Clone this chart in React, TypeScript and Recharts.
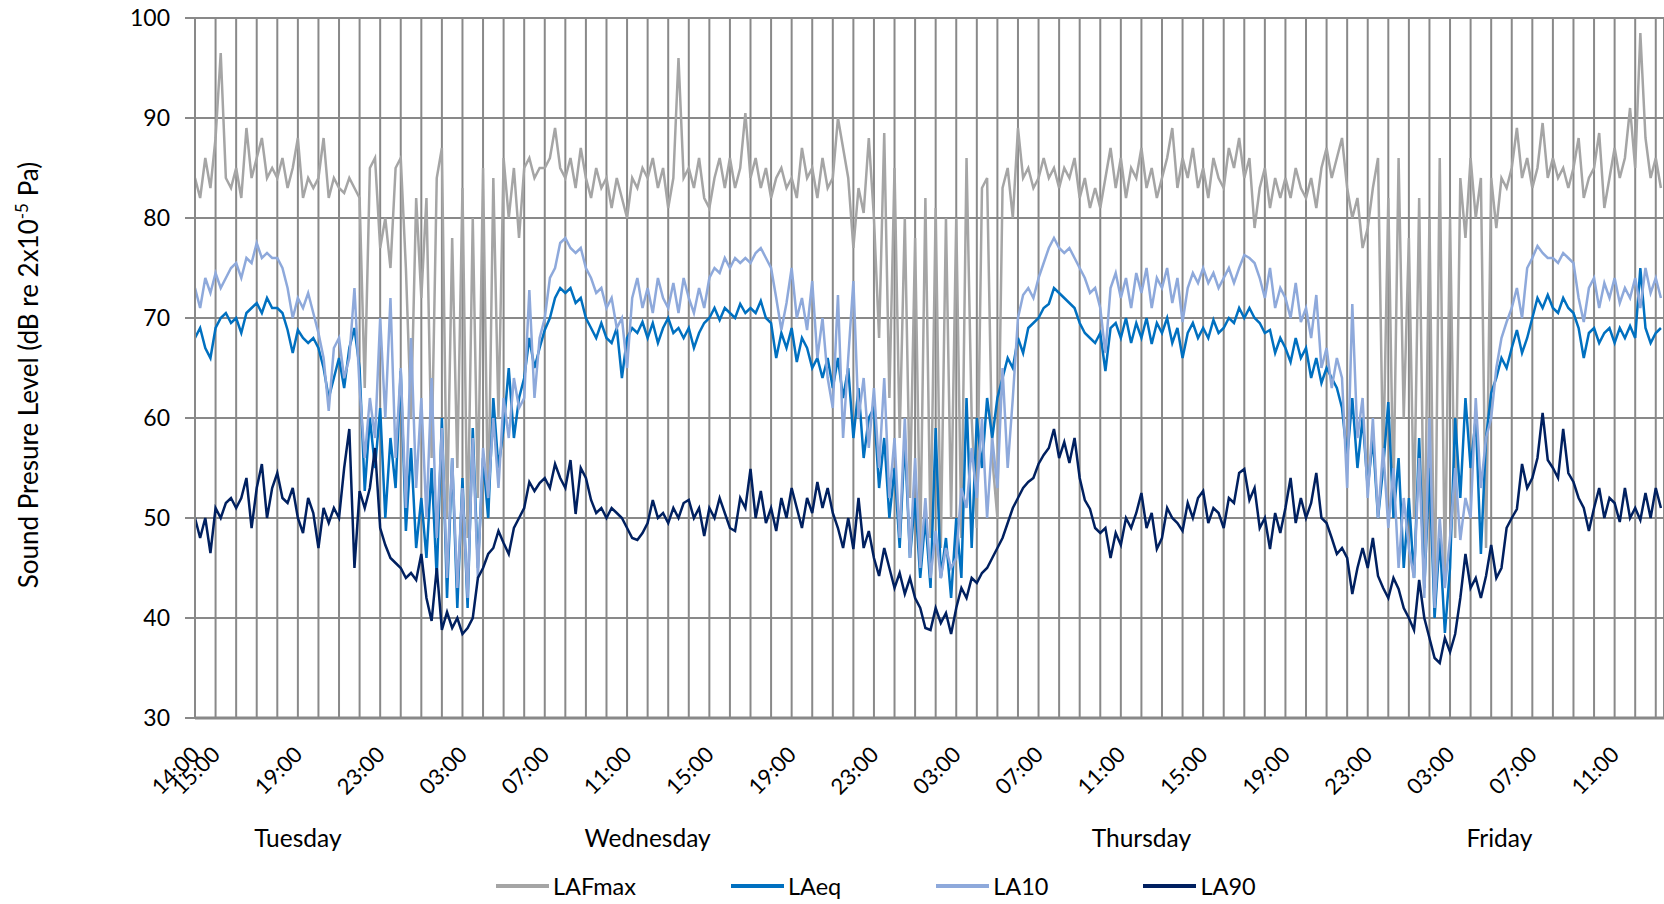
import React from "react";
import { LineChart, Line, XAxis, YAxis, CartesianGrid, Legend } from "recharts";

// samples every 15 min, hours counted from Tuesday 14:00
const STEP = 0.25;
const X_END = 71.4;

const hourTicks = Array.from({ length: 72 }, (_, i) => i);
const labelHours = [0, 1, 5, 9, 13, 17, 21, 25, 29, 33, 37, 41, 45, 49, 53, 57, 61, 65, 69];
const timeLabels = ["14:00", "15:00", "19:00", "23:00", "03:00", "07:00", "11:00", "15:00", "19:00",
  "23:00", "03:00", "07:00", "11:00", "15:00", "19:00", "23:00", "03:00", "07:00", "11:00"];
const dayTicks = [5, 22, 46, 63.4];
const dayNames = ["Tuesday", "Wednesday", "Thursday", "Friday"];
const yTicks = [30, 40, 50, 60, 70, 80, 90, 100];

const lafmax = [
  84, 82, 86, 83, 88, 96.5, 84, 83, 85, 82, 89, 84, 86, 88, 84, 85,
  84, 86, 83, 85, 88, 82, 84, 83, 84, 88, 82, 84, 83, 82.5, 84, 83,
  82, 63, 85, 86, 77, 80, 75, 85, 86, 75, 60, 82, 72, 82, 56, 84,
  87, 50, 78, 55, 83, 48, 80, 52, 85, 50, 84, 60, 86, 80, 85, 78,
  85, 86, 84, 85, 85, 86, 89, 85, 84, 86, 83, 87, 84, 82, 85, 83,
  84, 81, 84, 82, 80, 84, 83, 85, 84, 86, 83, 85, 81, 84, 96, 84,
  85, 83, 86, 82, 81, 84, 86, 83, 86, 83, 85, 90.5, 84, 86, 83, 85,
  82, 84, 85, 83, 84, 82, 87, 84, 85, 82, 86, 83, 84, 90, 87, 84,
  77, 83, 80.5, 88, 80, 68, 88.5, 62, 85, 58, 80, 52, 78, 47, 82, 48,
  81, 47, 80, 50, 80, 48, 86, 60, 49, 83, 84, 56, 50, 83, 85, 80,
  89, 84, 85, 83, 84, 86, 84, 85, 83, 85, 84, 86, 82, 84, 81, 83,
  81, 84, 87, 83, 86, 82, 85, 84, 87, 83, 85, 82, 84, 86, 89, 83,
  86, 84, 87, 83, 85, 82, 86, 84, 83, 87, 85, 88, 84, 86, 79, 83,
  85, 81, 84, 82, 84, 82, 85, 83, 82, 84, 81, 85, 87, 84, 86, 88,
  83, 80, 82, 77, 79, 83, 86, 55, 82, 52, 86, 60, 78, 50, 82, 45,
  80, 40, 86, 44, 80, 48, 84, 78, 86, 80, 84, 47, 84, 79, 84, 83,
  85, 89, 84, 86, 83, 85, 89.5, 84, 86, 84, 85, 83, 85, 88, 82, 84,
  85, 88.5, 81, 84, 87, 84, 86, 91, 85, 98.5, 88, 84, 86, 83,
];

const laeq = [
  68, 69, 67, 66, 69, 70, 70.5, 69.5, 70, 68.5, 70.5, 71, 71.5, 70.5, 72, 71,
  71, 70.5, 68.8, 66.5, 68.8, 68, 67.5, 68, 67, 65, 62, 64, 66, 63, 67, 69,
  65, 52.7, 60, 55, 61, 50, 58, 53, 64.7, 48.7, 57, 47, 52, 46, 55, 44,
  60, 42, 56, 41, 54, 41, 59, 45, 56, 50, 62, 55, 59, 65, 58, 62,
  64, 68, 65, 67, 68.8, 70, 72, 73, 72.5, 73, 71.5, 72, 70, 69, 68, 69.5,
  68, 67.5, 69, 64, 68, 69, 68.5, 69.6, 68, 69.5, 67.5, 69, 70, 68.5, 69, 68,
  69, 67, 68.5, 69.5, 70, 71, 69.8, 71, 70.5, 70, 71.4, 70.5, 71, 70.5, 71.7, 70,
  69.5, 66, 68.5, 67, 69, 65.6, 68, 67, 65, 66, 64, 66, 63, 66, 62, 65,
  58, 63, 56, 60, 61, 53, 58, 50, 55, 47, 58, 46, 52, 44, 50, 43,
  59, 44, 48, 42, 50, 44, 62, 47, 60, 55, 62, 58, 62, 64, 66, 65,
  68, 66.5, 69, 69.5, 70, 71, 71.4, 73, 72.5, 72, 71.5, 71, 69.5, 68.5, 68, 67.5,
  68.5, 64.7, 69, 69.5, 68, 70, 67.5, 69.5, 68, 70, 67.4, 69.5, 68.5, 70, 67.5, 69,
  66, 68.5, 69.5, 68, 69, 68, 69.8, 68.5, 69, 70, 69.5, 71, 70, 71, 70, 69.5,
  68.5, 68.8, 66.5, 68, 67, 65.6, 68, 66, 67, 64, 66, 63.5, 65, 64, 63, 61,
  56, 62, 55, 60, 53, 58, 50, 55, 61.6, 50, 56, 45, 52, 44, 58, 43,
  55, 40, 48, 38.5, 45, 60, 52, 62, 55, 60, 46.4, 58, 62.5, 64, 66, 65,
  67, 68.8, 66.5, 68, 70, 72, 71, 72.3, 71, 70.5, 72, 71, 70.5, 69, 66, 68.5,
  69, 67.5, 68.5, 69, 67.5, 69, 68, 69.2, 68, 75, 69, 67.5, 68.5, 69,
];

const la10 = [
  73, 71, 74, 72.5, 74.5, 73, 74, 75, 75.5, 74, 76, 75.5, 77.5, 76, 76.5, 76,
  76, 75, 73, 70, 72, 71, 72.5, 70.5, 68.5, 66, 60.7, 67, 68, 64, 66, 73,
  63, 56, 62, 58, 70, 60, 72, 56, 65, 51, 68, 53, 62, 50, 64, 48,
  59, 44, 56, 43, 53, 42, 58, 44, 57, 52, 60, 53, 62, 58, 64, 61,
  62, 72.8, 62, 68, 70, 74, 75, 77.5, 78, 77, 76.5, 77, 75, 74, 72.5, 73,
  71, 72, 69, 70, 65, 72, 74, 71, 73, 70.5, 74, 72, 71, 73.5, 70.5, 74,
  72, 70.5, 73, 71, 74, 75, 74.5, 76, 75, 76, 75.5, 76, 75.5, 76.5, 77, 76,
  75, 72, 68.8, 71.5, 75, 70, 72, 68.8, 73.7, 66, 70, 64, 61, 72.3, 58, 66,
  73.7, 60, 64, 57, 63, 55, 64, 52, 58, 48, 60, 46, 56, 45, 52, 44,
  48.7, 44, 47, 45, 46, 53, 51, 57, 52, 60, 50, 58, 53, 65, 55, 62,
  70, 72.3, 73, 72, 74, 75.5, 77, 78, 77, 76.5, 77, 76, 75, 74, 72.5, 73,
  71, 66.5, 73, 74.5, 72, 74, 71, 74.5, 72.5, 75, 71, 74, 73, 75, 71.5, 74,
  69.6, 73, 74.5, 73.5, 75, 73.5, 74.5, 73, 74, 75, 73.5, 75, 76.3, 76, 75.5, 74,
  72, 75, 71, 73, 72, 70, 73.5, 69.6, 71, 68, 72.3, 65, 67, 63, 66, 64,
  53, 71.4, 58, 62, 52, 60, 50, 57, 49, 55, 45, 52, 47, 44, 56, 42,
  60, 41, 50, 43, 48, 55, 47.8, 52, 50, 62, 53, 58, 60, 65, 68, 69.6,
  71, 73, 70, 75, 76, 77.2, 76.5, 76, 76, 75.5, 76.5, 76, 75.5, 72, 69.6, 73,
  74, 71, 73.5, 72, 74, 71.5, 73, 72, 74, 71, 75, 72.5, 74, 72,
];

const la90 = [
  50, 48, 50, 46.5, 51, 50, 51.5, 52, 51, 52, 54, 49, 53, 55.4, 50, 53,
  54.5, 52, 51.5, 53, 50, 48.5, 52, 50.5, 47, 51, 49.5, 51, 50, 55, 58.9, 45,
  52.7, 51, 53, 57, 49, 47.3, 46, 45.5, 45, 44, 44.5, 43.8, 46.4, 42, 39.7, 45,
  38.8, 40.6, 39, 40, 38.4, 39, 40, 44, 45, 46.4, 47, 48.7, 47.5, 46.4, 49, 50,
  51, 53.6, 52.7, 53.5, 54, 53, 55.4, 54, 53, 55.8, 50.4, 55, 54, 51.8, 50.5, 51,
  50, 51, 50.5, 50, 49, 48, 47.8, 48.5, 49.5, 51.8, 50, 50.5, 49.5, 51, 50, 51.5,
  51.8, 50, 51, 48.2, 51, 50, 52, 50.5, 49, 48.7, 52, 51, 54.9, 50, 52.7, 49.5,
  51, 48.7, 52, 50, 53, 51, 49, 52, 50.5, 53.6, 51, 53, 50.5, 49, 47, 50,
  46.9, 52, 47, 48.7, 46, 44.2, 47, 45, 43, 44.5, 42.4, 44, 42, 41, 39, 38.8,
  41, 39.5, 40.5, 38.4, 41, 43, 42, 44, 43.5, 44.5, 45, 46, 47, 48, 49.5, 51,
  52, 53, 53.6, 54, 55.4, 56.3, 57, 58.9, 56, 57.6, 55.5, 58, 54, 51.8, 50.9, 49,
  48.5, 49, 46, 48.5, 47.3, 50, 49, 50.5, 52.5, 49, 50.5, 46.9, 48, 51, 50, 49.5,
  48.7, 51.5, 50, 52, 52.7, 49.5, 51, 50.5, 49, 52, 51.5, 54.5, 54.9, 51.8, 53, 49,
  50, 46.9, 50.5, 48.5, 51, 54, 49.5, 52, 50, 51.5, 54.5, 50, 49.5, 48, 46.4, 47,
  46, 42.4, 45, 47, 45, 48, 44.2, 43, 42, 44, 42.9, 41, 40, 38.8, 43.8, 40,
  38, 36, 35.5, 38, 36.6, 38.4, 42, 46.4, 43, 44, 42, 44.2, 47.3, 44, 45, 49,
  50, 50.9, 55.4, 53, 54, 56, 60.5, 55.8, 55, 54, 58.9, 54.5, 53.6, 52, 51, 48.7,
  51, 53, 50, 52, 51.5, 49.6, 53, 50, 51, 49.8, 52.5, 50, 53, 51,
];

const series = [
  { key: "LAFmax", values: lafmax, color: "#A5A5A5" },
  { key: "LAeq", values: laeq, color: "#0070C0" },
  { key: "LA10", values: la10, color: "#8EA9DB" },
  { key: "LA90", values: la90, color: "#002060" },
];

const data = lafmax.map((_, i) => ({
  h: i * STEP,
  LAFmax: lafmax[i],
  LAeq: laeq[i],
  LA10: la10[i],
  LA90: la90[i],
}));

const FONT = "Lato, 'Liberation Sans', sans-serif";
const GRID = "#898989";

function TimeTick({ x, y, payload }: any) {
  const idx = labelHours.indexOf(payload.value);
  if (idx < 0) return <g />;
  const tx = x + 6;
  const ty = y + 36;
  return (
    <text x={tx} y={ty} textAnchor="end" fontSize={22} fill="#000" fontFamily={FONT}
      transform={`rotate(-45 ${tx} ${ty})`}>
      {timeLabels[idx]}
    </text>
  );
}

function DayTick({ x, y, payload }: any) {
  const idx = dayTicks.indexOf(payload.value);
  return (
    <text x={x} y={y + 27} textAnchor="middle" fontSize={24.5} fill="#000" fontFamily={FONT}>
      {dayNames[idx]}
    </text>
  );
}

function YTitle({ viewBox }: any) {
  const cx = 38;
  const cy = viewBox.y + viewBox.height / 2 + 7;
  return (
    <text x={cx} y={cy} textAnchor="middle" fontSize={26} fill="#000" fontFamily={FONT}
      transform={`rotate(-90 ${cx} ${cy})`}>
      Sound Presure Level (dB re 2x10
      <tspan dy={-10} fontSize={17}>-5</tspan>
      <tspan dy={10}> Pa)</tspan>
    </text>
  );
}

function LegendRow() {
  return (
    <div style={{ display: "flex", paddingLeft: 496, paddingTop: 8, fontFamily: FONT }}>
      {series.map((s) => (
        <div key={s.key} style={{ marginRight: 95, display: "flex", alignItems: "center" }}>
          <span style={{ display: "inline-block", width: 53, height: 4, background: s.color }} />
          <span style={{ marginLeft: 4, fontSize: 23.5, color: "#000" }}>{s.key}</span>
        </div>
      ))}
    </div>
  );
}

export default function App() {
  return (
    <div style={{ position: "absolute", left: 0, top: 0, width: 1664, height: 904, background: "#fff", fontFamily: FONT }}>
      <LineChart width={1664} height={904} data={data} margin={{ top: 18, right: 0, bottom: 0, left: 0 }}
        style={{ fontFamily: FONT }}>
        <CartesianGrid stroke={GRID} strokeWidth={2} />
        <XAxis dataKey="h" type="number" domain={[0, X_END]} ticks={hourTicks} interval={0}
          allowDataOverflow height={100} tickLine={false} tickSize={0}
          axisLine={{ stroke: GRID, strokeWidth: 3 }} tick={<TimeTick />} />
        <XAxis xAxisId="day" dataKey="h" type="number" domain={[0, X_END]} ticks={dayTicks}
          interval={0} allowDataOverflow height={46} axisLine={false} tickLine={false}
          tickSize={0} tick={<DayTick />} />
        <YAxis type="number" domain={[30, 100]} ticks={yTicks} interval={0} width={195}
          tickSize={10} tickMargin={15} axisLine={{ stroke: GRID, strokeWidth: 2 }}
          tickLine={{ stroke: GRID, strokeWidth: 2 }}
          tick={{ fontSize: 23, fill: "#000", fontFamily: FONT }} label={<YTitle />} />
        <Legend verticalAlign="bottom" align="left" height={40}
          wrapperStyle={{ left: 0, width: 1664 }} content={() => <LegendRow />} />
        {series.map((s) => (
          <Line key={s.key} dataKey={s.key} stroke={s.color} strokeWidth={2.5} dot={false}
            isAnimationActive={false} type="linear" />
        ))}
      </LineChart>
    </div>
  );
}
